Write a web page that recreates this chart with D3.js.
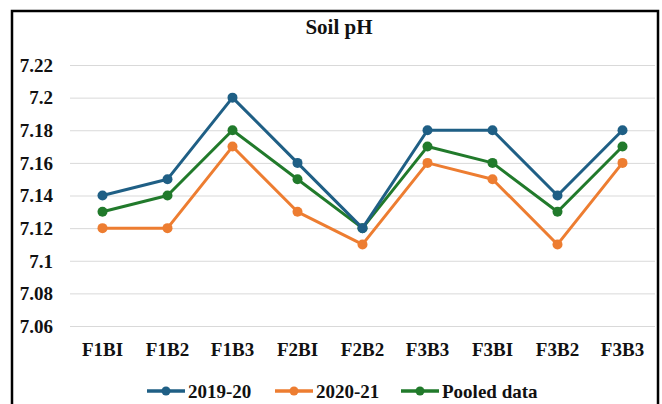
<!DOCTYPE html>
<html>
<head>
<meta charset="utf-8">
<script src="https://cdn.jsdelivr.net/npm/d3@7"></script>
</head>
<body style="margin:0">
<script>
// chart data
var categories = ["F1BI", "F1B2", "F1B3", "F2BI", "F2B2", "F3B3", "F3BI", "F3B2", "F3B3 "];
var seriesNames = ["2019-20", "2020-21", "Pooled data"];
var values1920 = [7.14, 7.15, 7.20, 7.16, 7.12, 7.18, 7.18, 7.14, 7.18];
var values2021 = [7.12, 7.12, 7.17, 7.13, 7.11, 7.16, 7.15, 7.11, 7.16];
var valuesPooled = [7.13, 7.14, 7.18, 7.15, 7.12, 7.17, 7.16, 7.13, 7.17];
var yTicks = [7.06, 7.08, 7.1, 7.12, 7.14, 7.16, 7.18, 7.2, 7.22];
var colors = ["#1f5f85", "#ed7d31", "#217a2b"];

var width = 662, height = 404;
var svg = d3.select("body").append("svg").attr("width", width).attr("height", height);

// frame
svg.append("rect").attr("x", 12).attr("y", 11).attr("width", 646).attr("height", 400)
    .attr("fill", "none").attr("stroke", "#000").attr("stroke-width", 2.5);

svg.append("text").attr("x", 339).attr("y", 34).attr("text-anchor", "middle")
    .attr("font-size", 21).text("Soil pH");

var x = d3.scaleBand().domain(categories).range([70, 655]);
var y = d3.scaleLinear().domain([7.06, 7.22]).range([326, 65]);

var yAxis = d3.axisLeft(y).tickValues(yTicks).tickSize(-585).tickFormat(function (d) { return String(+d.toFixed(2)); });
var gy = svg.append("g").attr("transform", "translate(70,0)").call(yAxis);
gy.select(".domain").remove();
gy.selectAll(".tick line").attr("stroke", "#d9d9d9").attr("stroke-width", 1);
gy.selectAll(".tick text").attr("x", -17).attr("dy", "0.33em").attr("font-size", 19);

var xAxis = d3.axisBottom(x).tickSize(0);
var gx = svg.append("g").attr("transform", "translate(0,342)").call(xAxis);
gx.select(".domain").remove();
gx.selectAll(".tick text").attr("y", 0).attr("dy", "0.72em").attr("font-size", 19);

var allSeries = [values1920, values2021, valuesPooled];
var line = d3.line().x(function (d, i) { return x(categories[i]) + x.bandwidth() / 2; }).y(function (d) { return y(d); });

// draw 2020-21 first, then pooled, then 2019-20 on top
[1, 2, 0].forEach(function (s) {
    var g = svg.append("g");
    g.append("path").datum(allSeries[s]).attr("d", line).attr("fill", "none")
        .attr("stroke", colors[s]).attr("stroke-width", 3).attr("stroke-linejoin", "round");
    g.selectAll("circle").data(allSeries[s]).enter().append("circle")
        .attr("cx", function (d, i) { return x(categories[i]) + x.bandwidth() / 2; })
        .attr("cy", function (d) { return y(d); })
        .attr("r", 5).attr("fill", colors[s]);
});

// legend
var legendX = [147, 275, 401];
seriesNames.forEach(function (name, i) {
    var g = svg.append("g").attr("transform", "translate(" + legendX[i] + ",391)");
    g.append("line").attr("x1", 0).attr("x2", 38).attr("y1", 0).attr("y2", 0)
        .attr("stroke", colors[i]).attr("stroke-width", 3.5);
    g.append("circle").attr("cx", 19).attr("cy", 0).attr("r", 4.5).attr("fill", colors[i]);
    g.append("text").attr("x", 41).attr("y", 7).attr("font-size", 19).text(name);
});

// serif bold everywhere
svg.selectAll("g").attr("font-family", null);
svg.selectAll("text")
    .attr("font-family", "Liberation Serif")
    .attr("font-weight", "bold")
    .attr("fill", "#111");
</script>
</body>
</html>
